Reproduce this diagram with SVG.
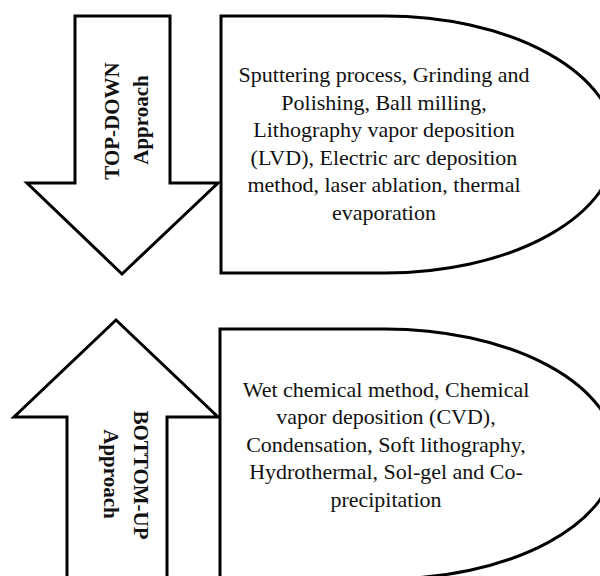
<svg xmlns="http://www.w3.org/2000/svg" width="600" height="576" viewBox="0 0 600 576">
<style>
.sh{fill:#ffffff;stroke:#000000;stroke-width:3;stroke-linejoin:miter}
.bx{fill:#ffffff;stroke:#000000;stroke-width:3}
.t{font-family:"Liberation Serif","Times New Roman",serif;font-size:22px;fill:#111111;text-anchor:middle}
.v{font-family:"Liberation Serif","Times New Roman",serif;font-size:21px;font-weight:bold;fill:#111111;text-anchor:middle}
</style>
<rect x="0" y="0" width="600" height="576" fill="#ffffff"/>
<g id="connectors"></g>
<g id="topdown-arrow">
<path class="sh" d="M75,16 H170 V183 H218 L122,274 L27,183 H75 Z"/>
<text class="v" transform="translate(119,121) rotate(-90)">TOP-DOWN</text>
<text class="v" transform="translate(148,120) rotate(-90)">Approach</text>
</g>
<g id="topdown-box">
<path class="bx" d="M221,16 H385 A231,128.5 0 0 1 385,273 H221 Z"/>
<text class="t" x="384" y="82">Sputtering process, Grinding and</text>
<text class="t" x="384" y="109.6">Polishing, Ball milling,</text>
<text class="t" x="384" y="137.2">Lithography vapor deposition</text>
<text class="t" x="384" y="164.8">(LVD), Electric arc deposition</text>
<text class="t" x="384" y="192.4">method, laser ablation, thermal</text>
<text class="t" x="384" y="220">evaporation</text>
</g>
<g id="bottomup-arrow">
<path class="sh" d="M67,590 V417 H14 L116,320 L218,417 H167 V590 Z"/>
<text class="v" transform="translate(134,475) rotate(90)">BOTTOM-UP</text>
<text class="v" transform="translate(104,474) rotate(90)">Approach</text>
</g>
<g id="bottomup-box">
<path class="bx" d="M220,329 H385 A231,125 0 0 1 385,579 H220 Z"/>
<text class="t" x="386" y="396.7">Wet chemical method, Chemical</text>
<text class="t" x="386" y="424.2">vapor deposition (CVD),</text>
<text class="t" x="386" y="451.7">Condensation, Soft lithography,</text>
<text class="t" x="386" y="479.2">Hydrothermal, Sol-gel and Co-</text>
<text class="t" x="386" y="506.7">precipitation</text>
</g>
</svg>
